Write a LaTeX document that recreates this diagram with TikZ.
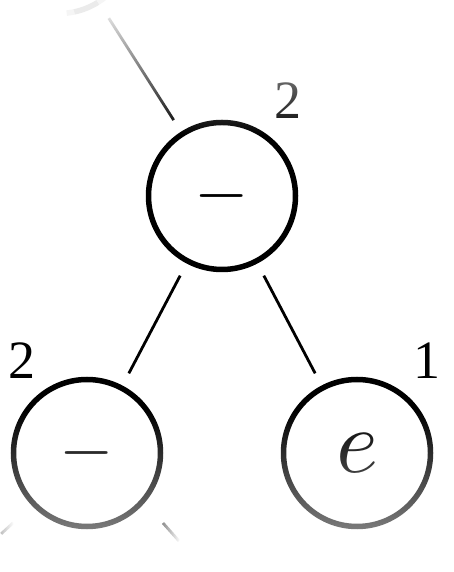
\documentclass[tikz,border=0pt]{standalone}
\usepackage{fontspec}
\newfontfamily\digitfont{Liberation Serif}
\usetikzlibrary{fadings,calc}
\tikzfading[name=topfade, top color=transparent!0, bottom color=transparent!100]
\tikzfading[name=botfade, top color=transparent!100, bottom color=transparent!35]
\tikzset{
  vtx/.style={circle, draw=black, line width=5.5pt, minimum size=147pt, inner sep=0pt, outer sep=16.5pt},
  ghost/.style={circle, minimum size=147pt, inner sep=0pt, outer sep=19.25pt},
  edge/.style={line width=2.8pt, draw=black},
  lab/.style={font=\digitfont\fontsize{54}{54}\selectfont, inner sep=0pt},
  sym/.style={inner sep=0pt}
}
\begin{document}
\begin{tikzpicture}[x=1pt,y=1pt]
\useasboundingbox (0,0) rectangle (453,572);
\clip (0,0) rectangle (453,572);
\fill[white] (0,0) rectangle (453,572);
% nodes
\node[ghost] (p) at (59,632) {};
\node[vtx] (t) at (222,376) {};
\node[vtx] (l) at (87,119) {};
\node[vtx] (r) at (357,119) {};
% symbols
\node[sym, scale=7] (tm) at (222,376) {$-$};
\node[sym, scale=7] (lm) at (87,119) {$-$};
\node[sym, scale=9] (re) at (357,119) {$e$};
% labels
\node[lab] (lt) at (288,471.5) {2};
\node[lab] (ll) at (22.5,211) {2};
\node[lab] (lr) at (426.5,211.5) {1};
% edges
\draw[edge] (t) -- (l);
\draw[edge] (t) -- (r);
\draw[edge] (t) -- (p);
% fades
\fill[white, path fading=topfade, fit fading=true] (0,437) rectangle (453,572);
\fill[white, path fading=botfade, fit fading=true] (0,0) rectangle (453,162);
% faint visible part of the parent circle
\draw[black!4, line width=5.5pt] ($(p)+(-84:73.5)$) arc[start angle=-84, end angle=-78, radius=73.5];
\draw[black!8, line width=5.5pt] ($(p)+(-78:73.5)$) arc[start angle=-78, end angle=-58, radius=73.5];
\draw[black!4, line width=5.5pt] ($(p)+(-58:73.5)$) arc[start angle=-58, end angle=-50, radius=73.5];
% cut-off edges below the left child
\coordinate (fr) at (163,49);
\coordinate (fl) at (13,49);
\begin{scope}[shift={(fr)}, rotate=-48.4]
  \shade[left color=black!45, right color=white] (0,-1.4) rectangle (24,1.4);
\end{scope}
\begin{scope}[shift={(fl)}, rotate=222.5]
  \shade[left color=black!25, right color=white] (0,-1.4) rectangle (16,1.4);
\end{scope}
\end{tikzpicture}
\end{document}
